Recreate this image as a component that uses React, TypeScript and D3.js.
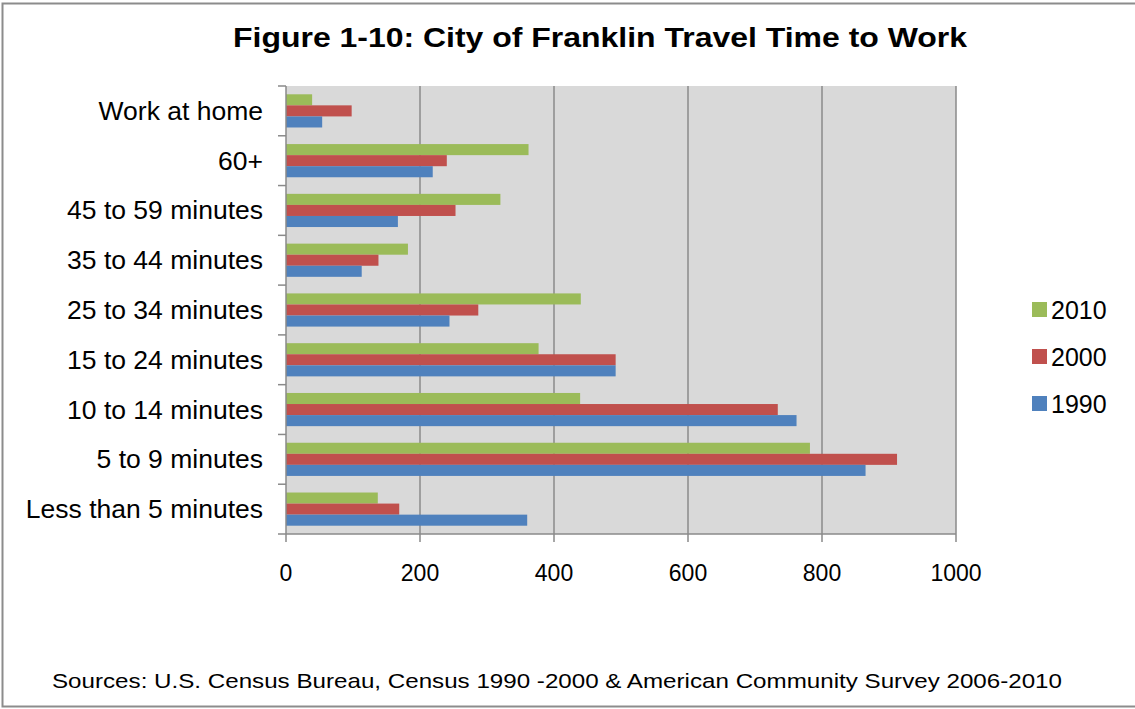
import React from "react";
import * as d3 from "d3";

const categories = [
  "Work at home",
  "60+",
  "45 to 59 minutes",
  "35 to 44 minutes",
  "25 to 34 minutes",
  "15 to 24 minutes",
  "10 to 14 minutes",
  "5 to 9 minutes",
  "Less than 5 minutes",
];
const series = ["2010", "2000", "1990"];
const values2010 = [39, 362, 320, 182, 440, 377, 439, 782, 137];
const values2000 = [98, 240, 253, 138, 287, 492, 734, 912, 169];
const values1990 = [54, 219, 167, 113, 244, 492, 762, 865, 360];
const colors = ["#9BBB59", "#C0504D", "#4F81BD"];
const xTicks = [0, 200, 400, 600, 800, 1000];
const title = "Figure 1-10: City of Franklin Travel Time to Work";
const source = "Sources: U.S. Census Bureau, Census 1990 -2000 & American Community Survey 2006-2010";

export default function App() {
  const W = 1135, H = 709;
  const left = 286, right = 956, top = 86, bottom = 534;
  const x = d3.scaleLinear().domain([0, 1000]).range([left, right]);
  const y = d3.scaleBand<string>().domain(categories).range([top, bottom]);
  const inner = d3.scaleBand<string>().domain(series).range([0, y.bandwidth()]).paddingOuter(0.75).paddingInner(0);
  const all = [values2010, values2000, values1990];
  const font = "'Liberation Sans', Arial, sans-serif";
  return (
    <svg width={W} height={H} style={{ position: "absolute", left: 0, top: 0, background: "#fff" }} fontFamily={font}>
      <rect x={2.5} y={3.5} width={W + 10} height={703} fill="#fff" stroke="#8c8c8c" strokeWidth={2} />
      <text x={600} y={47} textAnchor="middle" fontSize={28} fontWeight="bold" fill="#000" textLength={734} lengthAdjust="spacingAndGlyphs">{title}</text>
      <rect x={left} y={top} width={right - left} height={bottom - top} fill="#D9D9D9" />
      {xTicks.slice(1).map((t) => (
        <line key={t} x1={x(t)} x2={x(t)} y1={top} y2={bottom} stroke="#8a8a8a" strokeWidth={1.5} />
      ))}
      {all.map((vals, si) =>
        categories.map((c, ci) => (
          <rect key={si + "-" + ci} x={x(0)} y={(y(c) as number) + (inner(series[si]) as number)} width={x(vals[ci]) - x(0)} height={inner.bandwidth()} fill={colors[si]} />
        ))
      )}
      <line x1={left} x2={left} y1={top} y2={bottom} stroke="#8a8a8a" strokeWidth={1.5} />
      <line x1={left} x2={right} y1={bottom} y2={bottom} stroke="#8a8a8a" strokeWidth={1.5} />
      {categories.map((c) => (
        <line key={"t" + c} x1={left - 8} x2={left} y1={y(c) as number} y2={y(c) as number} stroke="#8a8a8a" strokeWidth={1.5} />
      ))}
      <line x1={left - 8} x2={left} y1={bottom} y2={bottom} stroke="#8a8a8a" strokeWidth={1.5} />
      {xTicks.map((t) => (
        <line key={"xt" + t} x1={x(t)} x2={x(t)} y1={bottom} y2={bottom + 8} stroke="#8a8a8a" strokeWidth={1.5} />
      ))}
      {xTicks.map((t) => (
        <text key={"xl" + t} x={x(t)} y={581} textAnchor="middle" fontSize={23} fill="#000">{t}</text>
      ))}
      {categories.map((c) => (
        <text key={"cl" + c} x={263} y={(y(c) as number) + y.bandwidth() / 2 + 9} textAnchor="end" fontSize={26.5} fill="#000">{c}</text>
      ))}
      {series.map((s, i) => (
        <g key={"lg" + s}>
          <rect x={1032} y={302 + i * 47} width={15} height={15} fill={colors[i]} />
          <text x={1051} y={318.5 + i * 47} fontSize={25} fill="#000">{s}</text>
        </g>
      ))}
      <text x={52} y={688} fontSize={21} fill="#000" textLength={1010} lengthAdjust="spacingAndGlyphs">{source}</text>
    </svg>
  );
}
